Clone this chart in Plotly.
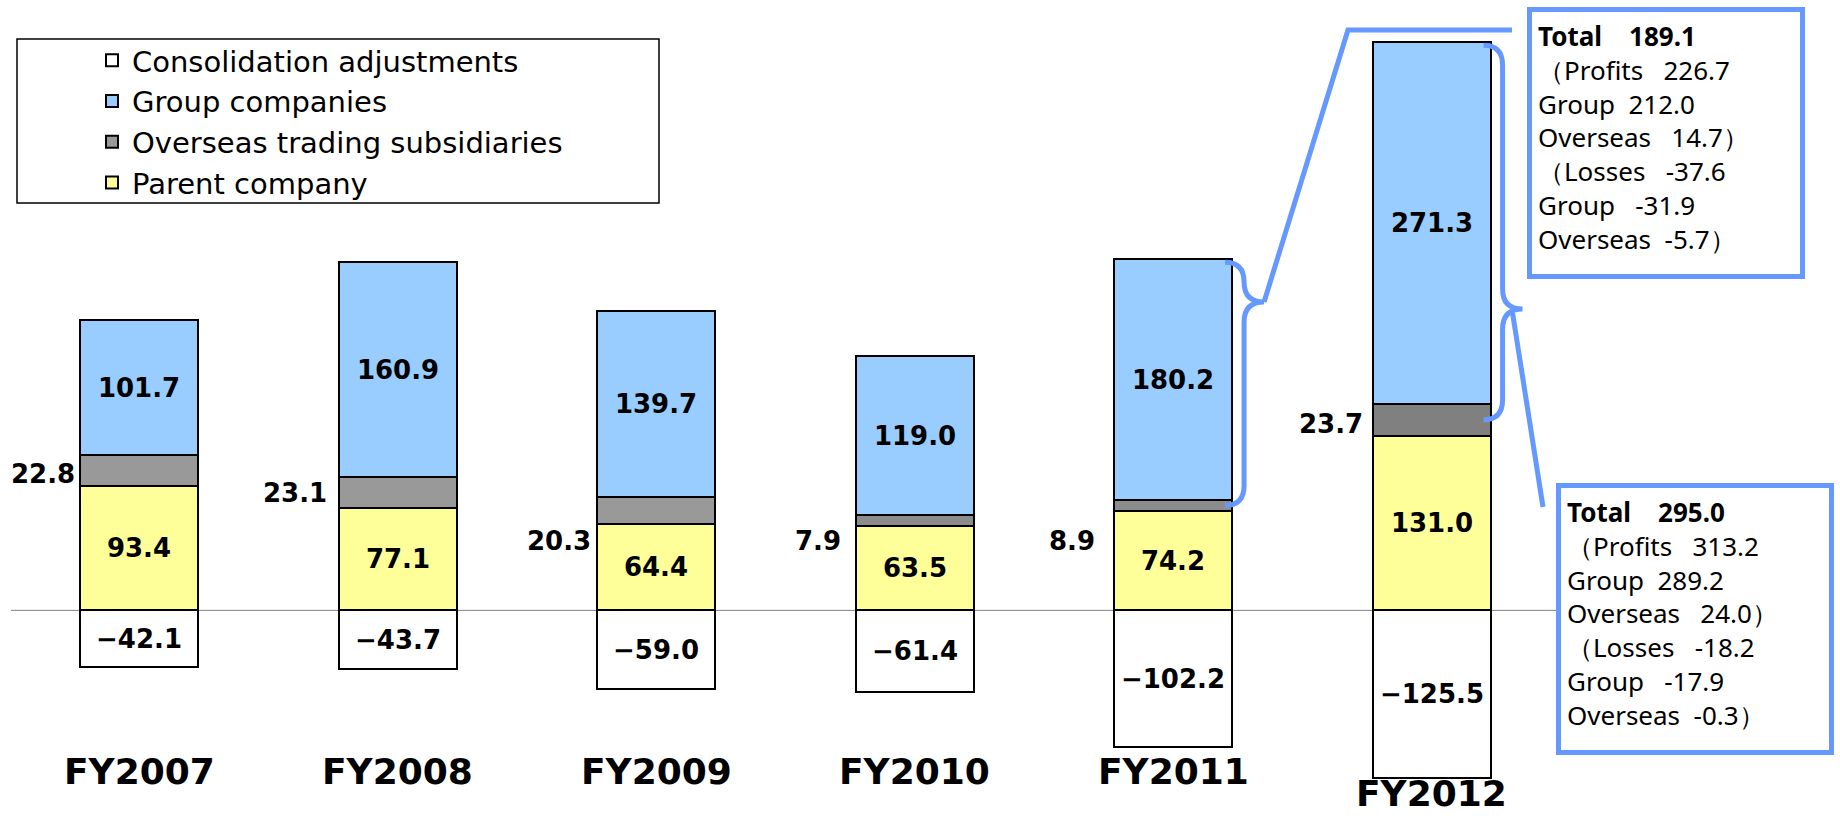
import plotly.graph_objects as go

# Ordinary income by segment (billion yen)
years = ["FY2007", "FY2008", "FY2009", "FY2010", "FY2011", "FY2012"]
parent = [93.4, 77.1, 64.4, 63.5, 74.2, 131.0]
overseas = [22.8, 23.1, 20.3, 7.9, 8.9, 23.7]
group = [101.7, 160.9, 139.7, 119.0, 180.2, 271.3]
consolidation = [-42.1, -43.7, -59.0, -61.4, -102.2, -125.5]

# call-out boxes (group companies + overseas subsidiaries) for FY2011 / FY2012
box_total = [189.1, 295.0]
box_profits = [226.7, 313.2]
box_profit_group = [212.0, 289.2]
box_profit_overseas = [14.7, 24.0]
box_losses = [-37.6, -18.2]
box_loss_group = [-31.9, -17.9]
box_loss_overseas = [-5.7, -0.3]

W, H = 1840, 816
X_RANGE = [-0.538, 6.580]
Y_RANGE = [-154.2, 457.7]
PXX = W / (X_RANGE[1] - X_RANGE[0])
PXY = H / (Y_RANGE[1] - Y_RANGE[0])
BAR_W = 0.4565
HALF = BAR_W / 2
BLUE = "#6699FF"
VAL_FONT = dict(family="DejaVu Sans", size=26, color="black", weight="bold")


def xd(px):  # pixel -> x data
    return X_RANGE[0] + px / PXX


def yd(py):  # pixel -> y data
    return Y_RANGE[1] - py / PXY


def xpx(v):
    return (v - X_RANGE[0]) * PXX


def ypx(v):
    return (Y_RANGE[1] - v) * PXY


def fmt(v):
    return f"{v:.1f}".replace("-", "\u2212")


xs = list(range(len(years)))
gray = ["#999999", "#999999", "#999999", "#8c8c8c", "#8c8c8c", "#808080"]

fig = go.Figure()
common = dict(x=xs, width=BAR_W, textposition="inside", insidetextanchor="middle",
              textangle=0, constraintext="none", textfont=VAL_FONT, hoverinfo="y+name")
fig.add_trace(go.Bar(name="Consolidation adjustments", y=consolidation,
                     text=[fmt(v) for v in consolidation], legendrank=1, legendgroup="a",
                     marker=dict(color="white", line=dict(color="black", width=2)), **common))
fig.add_trace(go.Bar(name="Parent company", y=parent,
                     text=[fmt(v) for v in parent], legendrank=4, legendgroup="d",
                     marker=dict(color="#FFFF99", line=dict(color="black", width=2)), **common))
fig.add_trace(go.Bar(name="Overseas trading subsidiaries", y=overseas,
                     legendrank=3, legendgroup="c",
                     marker=dict(color=gray, line=dict(color="black", width=2)),
                     **{k: v for k, v in common.items() if k not in ("textposition",)}))
fig.add_trace(go.Bar(name="Group companies", y=group,
                     text=[fmt(v) for v in group], legendrank=2, legendgroup="b",
                     marker=dict(color="#99CCFF", line=dict(color="black", width=2)), **common))

# overseas values written beside the bars
ov_gap = [3, 10, 4, 13, 17, 8]
ov_shift = [-3, -1, -30, -21, -36, -4]
for i, v in enumerate(overseas):
    fig.add_annotation(x=i - HALF, y=parent[i] + v / 2, xref="x", yref="y", text=fmt(v),
                       showarrow=False, xanchor="right", yanchor="middle",
                       xshift=-ov_gap[i], yshift=ov_shift[i], font=VAL_FONT)

# year labels
label_py = [771, 771, 771, 771, 771, 793]
for i, name in enumerate(years):
    fig.add_annotation(x=i, y=1 - label_py[i] / H, xref="x", yref="paper", text=name,
                       showarrow=False, xanchor="center", yanchor="middle",
                       font=dict(family="DejaVu Sans", size=36, color="black", weight="bold"))

# zero line
fig.add_shape(type="line", xref="x", yref="y", x0=xd(11), x1=xd(1558), y0=0, y1=0,
              line=dict(color="#808080", width=1), layer="below")

# curly braces over group + overseas of FY2011 and FY2012
tip_py = [302, 309]
tips = []
for k, i in enumerate([4, 5]):
    edge = xpx(i + HALF)
    a, b, c = edge - 7, edge + 12, edge + 32
    yt = ypx(parent[i] + overseas[i] + group[i]) + 3
    yb = ypx(parent[i] + overseas[i] / 2)
    ym = tip_py[k]
    r = 20
    pts = [("M", [(a, yt)]), ("Q", [(b, yt), (b, yt + r)]), ("L", [(b, ym - r)]),
           ("Q", [(b, ym), (c, ym)]), ("Q", [(b, ym), (b, ym + r)]), ("L", [(b, yb - r)]),
           ("Q", [(b, yb), (a, yb)])]
    path = " ".join(cmd + " " + " ".join(f"{xd(px):.5f},{yd(py):.3f}" for px, py in p)
                    for cmd, p in pts)
    fig.add_shape(type="path", path=path, xref="x", yref="y",
                  line=dict(color=BLUE, width=5))
    tips.append((c, ym))

# connectors from braces to the call-out boxes
conn = [[tips[0], (1348, 30), (1512, 30)], [(tips[1][0] - 10, tips[1][1] + 4), (1543, 507)]]
for line in conn:
    path = "M " + " L ".join(f"{xd(px):.5f},{yd(py):.3f}" for px, py in line)
    fig.add_shape(type="path", path=path, xref="x", yref="y", line=dict(color=BLUE, width=5))

# call-out boxes
box_pos = [(1526.5, 7), (1555.5, 482.5)]
sp = "\u00a0"
for k in range(2):
    lines = [
        f"<b>Total{sp * 4}{box_total[k]:.1f}</b>",
        f"\uff08Profits{sp * 3}{box_profits[k]:.1f}",
        f"Group{sp * 2}{box_profit_group[k]:.1f}",
        f"Overseas{sp * 3}{box_profit_overseas[k]:.1f}\uff09",
        f"\uff08Losses{sp * 3}{box_losses[k]:.1f}",
        f"Group{sp * 3}{box_loss_group[k]:.1f}",
        f"Overseas{sp * 2}{box_loss_overseas[k]:.1f}\uff09",
    ]
    bx, by = box_pos[k]
    fig.add_annotation(x=bx / W, y=1 - by / H, xref="paper", yref="paper",
                       xanchor="left", yanchor="top", text="<br>".join(lines),
                       showarrow=False, align="left", valign="top", width=256, height=250,
                       bordercolor=BLUE, borderwidth=5, borderpad=6, bgcolor="white",
                       font=dict(family="Noto Sans", size=26, color="black"))

# legend frame
fig.add_shape(type="rect", xref="paper", yref="paper", x0=17 / W, x1=659 / W,
              y0=1 - 203 / H, y1=1 - 39 / H, line=dict(color="black", width=1.5),
              fillcolor="white", layer="below")

fig.update_layout(
    width=W, height=H,
    barmode="relative",
    bargap=0,
    margin=dict(l=0, r=0, t=0, b=0, pad=0),
    plot_bgcolor="white", paper_bgcolor="white",
    xaxis=dict(range=X_RANGE, visible=False, fixedrange=True),
    yaxis=dict(range=Y_RANGE, visible=False, fixedrange=True),
    legend=dict(x=92 / W, y=1 - 35 / H, xanchor="left", yanchor="top",
                traceorder="grouped", tracegroupgap=0, bgcolor="rgba(0,0,0,0)",
                borderwidth=0, font=dict(family="DejaVu Sans", size=29, color="black")),
    showlegend=True,
)

fig.write_html("out.html", config={"displayModeBar": False},
               post_script="document.body.style.margin = '0';")
